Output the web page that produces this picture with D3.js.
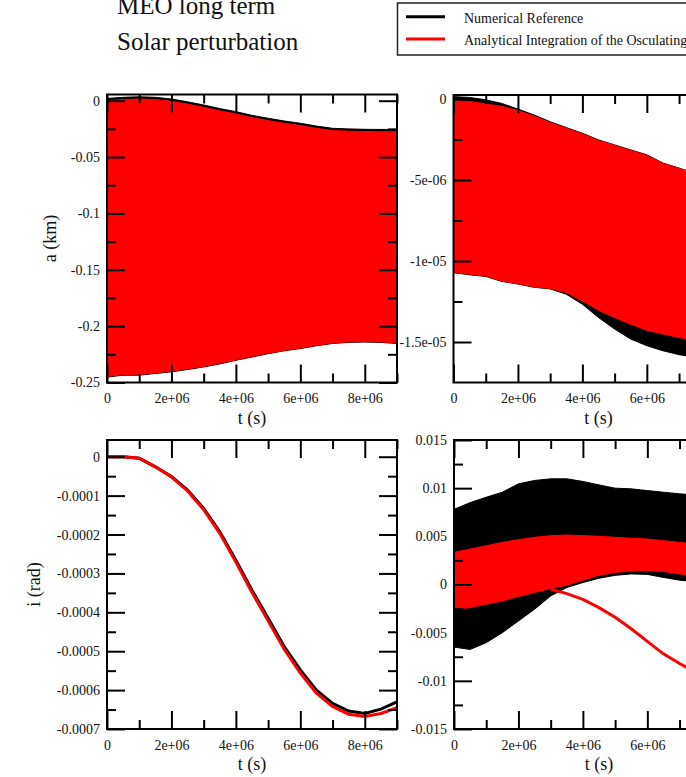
<!DOCTYPE html>
<html>
<head>
<meta charset="utf-8">
<script src="https://cdn.jsdelivr.net/npm/d3@7"></script>
<style>
body { margin: 0; background: #fff; }
text { font-family: "Liberation Serif", "Times New Roman", serif; fill: #111; }
</style>
</head>
<body>
<div id="chart"></div>
<script>
let titleLines = ["MEO long term", "Solar perturbation"];
let legendLabels = ["Numerical Reference", "Analytical Integration of the Osculating"];
let legendColors = ["#000", "#ff0000"];

let tGrid = [0, 0.5e6, 1e6, 1.5e6, 2e6, 2.5e6, 3e6, 3.5e6, 4e6, 4.5e6, 5e6, 5.5e6, 6e6, 6.5e6, 7e6, 7.5e6, 8e6, 8.5e6, 9e6];
let xTicks = [0, 2e6, 4e6, 6e6, 8e6];
let xTickLabels = ["0", "2e+06", "4e+06", "6e+06", "8e+06"];
let xMinor = [1e6, 3e6, 5e6, 7e6, 9e6];

// a (km): envelopes of the fast oscillation
let aNumUpper = [0.002, 0.003, 0.0035, 0.003, 0.0015, -0.001, -0.0038, -0.007, -0.0097, -0.013, -0.0156, -0.018, -0.02, -0.0225, -0.0245, -0.025, -0.0254, -0.0255, -0.0255];
let aNumLower = [-0.2452, -0.2435, -0.2435, -0.242, -0.2405, -0.2385, -0.2362, -0.2335, -0.2303, -0.2274, -0.2244, -0.2219, -0.2199, -0.2174, -0.2154, -0.2144, -0.2141, -0.2144, -0.2154];
let aAnaUpper = [0.0, 0.001, 0.0015, 0.001, -0.0005, -0.003, -0.0058, -0.009, -0.0117, -0.015, -0.0176, -0.02, -0.022, -0.0245, -0.0265, -0.027, -0.0274, -0.0275, -0.0275];
let aAnaLower = [-0.2447, -0.243, -0.243, -0.2415, -0.24, -0.238, -0.2358, -0.233, -0.2299, -0.227, -0.224, -0.2215, -0.2195, -0.217, -0.215, -0.214, -0.2137, -0.214, -0.215];
let aTicks = [0, -0.05, -0.1, -0.15, -0.2, -0.25];
let aTickLabels = ["0", "-0.05", "-0.1", "-0.15", "-0.2", "-0.25"];
let aMinor = [-0.025, -0.075, -0.125, -0.175, -0.225];

// top right quantity
let eNumUpper = [1.5e-7, 1.0e-7, -0.5e-7, -2.7e-7, -6.2e-7, -9.8e-7, -1.40e-6, -1.76e-6, -2.11e-6, -2.52e-6, -2.83e-6, -3.14e-6, -3.44e-6, -3.95e-6, -4.26e-6, -4.60e-6, -4.95e-6, -5.25e-6, -5.50e-6];
let eNumLower = [-1.072e-5, -1.085e-5, -1.095e-5, -1.126e-5, -1.142e-5, -1.162e-5, -1.172e-5, -1.205e-5, -1.267e-5, -1.349e-5, -1.420e-5, -1.482e-5, -1.523e-5, -1.554e-5, -1.578e-5, -1.595e-5, -1.610e-5, -1.620e-5, -1.630e-5];
let eAnaUpper = [-1.0e-7, -1.5e-7, -3.0e-7, -4.5e-7, -7.0e-7, -1.05e-6, -1.45e-6, -1.80e-6, -2.15e-6, -2.55e-6, -2.86e-6, -3.17e-6, -3.47e-6, -3.97e-6, -4.28e-6, -4.62e-6, -4.97e-6, -5.27e-6, -5.52e-6];
let eAnaLower = [-1.072e-5, -1.082e-5, -1.093e-5, -1.124e-5, -1.140e-5, -1.160e-5, -1.169e-5, -1.195e-5, -1.247e-5, -1.304e-5, -1.349e-5, -1.390e-5, -1.427e-5, -1.451e-5, -1.472e-5, -1.490e-5, -1.505e-5, -1.520e-5, -1.530e-5];
let eTicks = [0, -5e-6, -1e-5, -1.5e-5];
let eTickLabels = ["0", "-5e-06", "-1e-05", "-1.5e-05"];
let eMinor = [-2.5e-6, -7.5e-6, -1.25e-5];

// i (rad)
let iNum = [0, 0, -4e-6, -2.6e-5, -5.1e-5, -8.6e-5, -1.33e-4, -1.93e-4, -2.66e-4, -3.43e-4, -4.15e-4, -4.88e-4, -5.48e-4, -6.00e-4, -6.34e-4, -6.54e-4, -6.60e-4, -6.49e-4, -6.30e-4];
let iAna = [0, 0, -4e-6, -2.6e-5, -5.2e-5, -8.8e-5, -1.36e-4, -1.97e-4, -2.71e-4, -3.49e-4, -4.22e-4, -4.95e-4, -5.56e-4, -6.08e-4, -6.42e-4, -6.62e-4, -6.68e-4, -6.60e-4, -6.45e-4];
let iTicks = [0, -0.0001, -0.0002, -0.0003, -0.0004, -0.0005, -0.0006, -0.0007];
let iTickLabels = ["0", "-0.0001", "-0.0002", "-0.0003", "-0.0004", "-0.0005", "-0.0006", "-0.0007"];
let iMinor = [-0.00005, -0.00015, -0.00025, -0.00035, -0.00045, -0.00055, -0.00065];

// bottom right quantity
let wNumUpper = [7.8e-3, 8.5e-3, 9.06e-3, 9.58e-3, 1.045e-2, 1.08e-2, 1.097e-2, 1.097e-2, 1.07e-2, 1.034e-2, 1.0e-2, 9.93e-3, 9.75e-3, 9.58e-3, 9.41e-3, 9.3e-3, 9.2e-3, 9.1e-3, 9.0e-3];
let wNumLower = [-6.5e-3, -6.74e-3, -6.04e-3, -5.0e-3, -3.79e-3, -2.57e-3, -1.19e-3, -3.1e-4, 2.0e-4, 6.5e-4, 9.5e-4, 1.1e-3, 1.05e-3, 7.3e-4, 4.5e-4, 3.0e-4, 2.0e-4, 1.0e-4, 0];
let wAnaUpper = [3.33e-3, 3.68e-3, 4.02e-3, 4.37e-3, 4.65e-3, 4.9e-3, 5.07e-3, 5.14e-3, 5.07e-3, 5.0e-3, 4.9e-3, 4.8e-3, 4.72e-3, 4.55e-3, 4.37e-3, 4.2e-3, 4.0e-3, 3.8e-3, 3.6e-3];
let wAnaLower = [-2.57e-3, -2.4e-3, -2.05e-3, -1.7e-3, -1.25e-3, -8.3e-4, -4.2e-4, -7e-5, 4.5e-4, 9.5e-4, 1.25e-3, 1.4e-3, 1.45e-3, 1.35e-3, 1.1e-3, 9.0e-4, 7.0e-4, 5.0e-4, 3.0e-4];
let wLineT = [3e6, 3.5e6, 4e6, 4.5e6, 5e6, 5.5e6, 6e6, 6.5e6, 7e6, 7.5e6, 8e6, 8.5e6, 9e6];
let wLine = [-5.0e-4, -9.5e-4, -1.55e-3, -2.4e-3, -3.4e-3, -4.6e-3, -5.9e-3, -7.2e-3, -8.2e-3, -9.1e-3, -1.0e-2, -1.09e-2, -1.18e-2];
let wTicks = [0.015, 0.01, 0.005, 0, -0.005, -0.01, -0.015];
let wTickLabels = ["0.015", "0.01", "0.005", "0", "-0.005", "-0.01", "-0.015"];
let wMinor = [0.0125, 0.0075, 0.0025, -0.0025, -0.0075, -0.0125];

let width = 686, height = 777;
let svg = d3.select("#chart").append("svg").attr("width", width).attr("height", height);

function styleAxis(g, size) {
    g.select(".domain").remove();
    g.selectAll("line").attr("stroke", "#000").attr("stroke-width", 2);
    g.selectAll("text").style("font-size", size + "px").style("font-family", '"Liberation Serif", serif').attr("fill", "#111");
}

function drawPanel(p) {
    let x = d3.scaleLinear().domain([0, 9e6]).range([p.left, p.left + p.width]);
    let y = d3.scaleLinear().domain(p.yDomain).range([p.top + p.height, p.top]);
    let bottom = p.top + p.height, right = p.left + p.width;
    // labels that would sit past the window edge are left out, as in the cropped original
    let shown = xTicks.filter(d => x(d) + 15 < width);

    svg.append("clipPath").attr("id", "clip" + p.id).append("rect")
        .attr("x", p.left).attr("y", p.top).attr("width", p.width).attr("height", p.height);
    let g = svg.append("g").attr("clip-path", `url(#clip${p.id})`);

    p.bands.forEach(b => {
        let area = d3.area()
            .x((d, i) => x(tGrid[i]))
            .y0((d, i) => y(b.lower[i]))
            .y1((d, i) => y(b.upper[i]));
        g.append("path").datum(b.upper).attr("d", area)
            .attr("fill", b.color).attr("stroke", b.color).attr("stroke-width", 1);
    });

    p.lines.forEach(l => {
        let line = d3.line().x((d, i) => x(l.t[i])).y(d => y(d));
        g.append("path").datum(l.values).attr("d", line)
            .attr("fill", "none").attr("stroke", l.color).attr("stroke-width", 3);
    });

    svg.append("g").attr("transform", `translate(0,${bottom})`)
        .call(d3.axisBottom(x).tickValues(shown).tickFormat(d => xTickLabels[xTicks.indexOf(d)]).tickSize(-18).tickSizeOuter(0).tickPadding(11))
        .call(g => styleAxis(g, 14));
    svg.append("g").attr("transform", `translate(0,${bottom})`)
        .call(d3.axisBottom(x).tickValues(xTicks.filter(d => !shown.includes(d))).tickFormat("").tickSize(-18).tickSizeOuter(0))
        .call(g => styleAxis(g, 14));
    svg.append("g").attr("transform", `translate(0,${bottom})`)
        .call(d3.axisBottom(x).tickValues(xMinor).tickFormat("").tickSize(-9).tickSizeOuter(0))
        .call(g => styleAxis(g, 14));
    svg.append("g").attr("transform", `translate(0,${p.top})`)
        .call(d3.axisTop(x).tickValues(xTicks).tickFormat("").tickSize(-18).tickSizeOuter(0))
        .call(g => styleAxis(g, 14));
    svg.append("g").attr("transform", `translate(0,${p.top})`)
        .call(d3.axisTop(x).tickValues(xMinor).tickFormat("").tickSize(-9).tickSizeOuter(0))
        .call(g => styleAxis(g, 14));

    svg.append("g").attr("transform", `translate(${p.left},0)`)
        .call(d3.axisLeft(y).tickValues(p.yTicks).tickFormat((d, i) => p.yTickLabels[i]).tickSize(-18).tickSizeOuter(0).tickPadding(7))
        .call(g => styleAxis(g, 14));
    svg.append("g").attr("transform", `translate(${p.left},0)`)
        .call(d3.axisLeft(y).tickValues(p.yMinor).tickFormat("").tickSize(-9).tickSizeOuter(0))
        .call(g => styleAxis(g, 14));
    svg.append("g").attr("transform", `translate(${right},0)`)
        .call(d3.axisRight(y).tickValues(p.yTicks).tickFormat("").tickSize(-18).tickSizeOuter(0))
        .call(g => styleAxis(g, 14));
    svg.append("g").attr("transform", `translate(${right},0)`)
        .call(d3.axisRight(y).tickValues(p.yMinor).tickFormat("").tickSize(-9).tickSizeOuter(0))
        .call(g => styleAxis(g, 14));

    svg.append("rect")
        .attr("x", p.left).attr("y", p.top).attr("width", p.width).attr("height", p.height)
        .attr("fill", "none").attr("stroke", "#000").attr("stroke-width", 2);

    svg.append("text")
        .attr("x", p.left + p.width / 2).attr("y", bottom + 41)
        .attr("text-anchor", "middle").style("font-size", "18px")
        .text("t (s)");

    if (p.yTitle) {
        svg.append("text")
            .attr("transform", `translate(${p.yTitleX},${p.top + p.height / 2}) rotate(-90)`)
            .attr("text-anchor", "middle").style("font-size", "18px")
            .text(p.yTitle);
    }
}

drawPanel({
    id: 1, left: 107, top: 94.5, width: 290, height: 288,
    yDomain: [-0.25, 0.0055], yTicks: aTicks, yTickLabels: aTickLabels, yMinor: aMinor,
    yTitle: "a (km)", yTitleX: 56,
    bands: [
        { upper: aNumUpper, lower: aNumLower, color: "#000" },
        { upper: aAnaUpper, lower: aAnaLower, color: "#ff0000" }
    ],
    lines: []
});

drawPanel({
    id: 2, left: 453.5, top: 95, width: 290, height: 287.5,
    yDomain: [-1.75e-5, 2.5e-7], yTicks: eTicks, yTickLabels: eTickLabels, yMinor: eMinor,
    bands: [
        { upper: eNumUpper, lower: eNumLower, color: "#000" },
        { upper: eAnaUpper, lower: eAnaLower, color: "#ff0000" }
    ],
    lines: []
});

drawPanel({
    id: 3, left: 107, top: 440, width: 290, height: 289,
    yDomain: [-0.0007, 0.000043], yTicks: iTicks, yTickLabels: iTickLabels, yMinor: iMinor,
    yTitle: "i (rad)", yTitleX: 40,
    bands: [],
    lines: [
        { t: tGrid, values: iNum, color: "#000" },
        { t: tGrid, values: iAna, color: "#ff0000" }
    ]
});

drawPanel({
    id: 4, left: 454, top: 440, width: 290, height: 289,
    yDomain: [-0.015, 0.015], yTicks: wTicks, yTickLabels: wTickLabels, yMinor: wMinor,
    bands: [
        { upper: wNumUpper, lower: wNumLower, color: "#000" },
        { upper: wAnaUpper, lower: wAnaLower, color: "#ff0000" }
    ],
    lines: [
        { t: wLineT, values: wLine, color: "#ff0000" }
    ]
});

svg.selectAll(".title").data(titleLines).enter().append("text")
    .attr("x", 117)
    .attr("y", (d, i) => 13.5 + i * 36.5)
    .style("font-size", "25px")
    .text(d => d);

svg.append("rect")
    .attr("x", 397.5).attr("y", 3).attr("width", 400).attr("height", 52)
    .attr("fill", "#fff").attr("stroke", "#222").attr("stroke-width", 1.5);

svg.selectAll(".legend-line").data(legendLabels).enter().append("line")
    .attr("x1", 406).attr("x2", 445)
    .attr("y1", (d, i) => 16.7 + i * 22.3)
    .attr("y2", (d, i) => 16.7 + i * 22.3)
    .attr("stroke", (d, i) => legendColors[i])
    .attr("stroke-width", 3);

svg.selectAll(".legend-label").data(legendLabels).enter().append("text")
    .attr("x", 464)
    .attr("y", (d, i) => 22.5 + i * 22.3)
    .style("font-size", "14px")
    .text(d => d);
</script>
</body>
</html>
